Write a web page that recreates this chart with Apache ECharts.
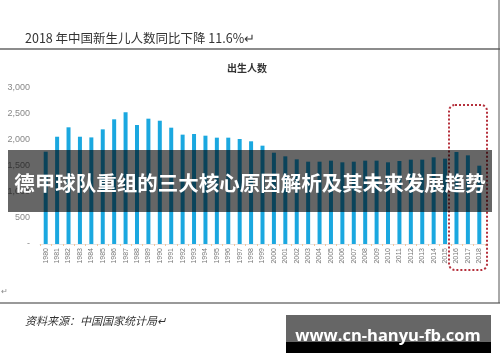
<!DOCTYPE html>
<html>
<head>
<meta charset="utf-8">
<script src="https://cdn.jsdelivr.net/npm/echarts@6/dist/echarts.min.js"></script>
<style>html,body{margin:0;padding:0;background:#fff;}#c{width:500px;height:362px;}</style>
</head>
<body>
<div id="c"></div>
<script>
const years = ['1980','1981','1982','1983','1984','1985','1986','1987','1988','1989','1990','1991','1992','1993','1994','1995','1996','1997','1998','1999','2000','2001','2002','2003','2004','2005','2006','2007','2008','2009','2010','2011','2012','2013','2014','2015','2016','2017','2018'];
const births = [1775,2063,2244,2063,2050,2205,2398,2532,2288,2410,2371,2237,2103,2115,2083,2045,2045,2019,1975,1891,1756,1686,1628,1583,1583,1603,1571,1583,1603,1603,1571,1596,1622,1622,1667,1641,1769,1705,1506];
const yTickLabels = ['-','500','1,000','1,500','2,000','2,500','3,000'];
const titleText = '2018 年中国新生儿人数同比下降 11.6%↵';
const seriesName = '出生人数';
const sourceText = '资料来源：中国国家统计局↵';
const bannerText = '德甲球队重组的三大核心原因解析及其未来发展趋势';
const watermarkText = 'www.cn-hanyu-fb.com';

const chart = echarts.init(document.getElementById('c'));
chart.setOption({
  animation: false,
  backgroundColor: '#fff',
  grid: {left: 40, top: 88, width: 445, height: 156},
  xAxis: {
    type: 'category',
    data: years,
    axisLine: {lineStyle: {color: '#e6e6e6'}},
    axisTick: {show: true, length: 2, lineStyle: {color: '#f2c49a'}},
    axisLabel: {rotate: 90, fontSize: 7, color: '#777', margin: 4, fontFamily: 'Liberation Sans'}
  },
  yAxis: {
    type: 'value',
    min: 0, max: 3000, interval: 500,
    splitLine: {show: false},
    axisLine: {show: false},
    axisTick: {show: false},
    axisLabel: {
      fontSize: 9, color: '#888', margin: 10, fontFamily: 'Liberation Sans',
      formatter: function (v) { return yTickLabels[Math.round(v / 500)]; }
    }
  },
  series: [{
    type: 'bar',
    name: seriesName,
    data: births,
    barWidth: 4,
    itemStyle: {color: '#1ba8e0'}
  }],
  graphic: [
    {type: 'text', left: 25, top: 32, z: 50, style: {text: titleText, fontSize: 12.5, fill: '#333', fontFamily: 'Noto Sans CJK SC'}},
    {type: 'line', z: 50, shape: {x1: 0, y1: 49, x2: 500, y2: 49}, style: {stroke: '#666', lineWidth: 1.5}},
    {type: 'line', z: 50, shape: {x1: 0, y1: 303, x2: 500, y2: 303}, style: {stroke: '#777', lineWidth: 1.5}},
    {type: 'line', z: 50, shape: {x1: 499, y1: 0, x2: 499, y2: 303}, style: {stroke: '#555', lineWidth: 1}},
    {type: 'text', left: 227, top: 63, z: 50, style: {text: seriesName, fontSize: 10, fontWeight: 'bold', fill: '#333', fontFamily: 'Noto Sans CJK SC'}},
    {type: 'text', left: 1, top: 288, z: 50, style: {text: '↵', fontSize: 8, fill: '#888'}},
    {type: 'text', left: 25, top: 315, z: 50, style: {text: sourceText, fontSize: 11, fontStyle: 'italic', fill: '#333', fontFamily: 'Noto Sans CJK SC'}},
    {type: 'rect', z: 60, shape: {x: 449, y: 105, width: 38, height: 165, r: 6}, style: {fill: 'none', stroke: '#b5303c', lineWidth: 2, lineDash: [2, 2]}},
    {type: 'rect', z: 100, shape: {x: 8, y: 150, width: 484, height: 62}, style: {fill: 'rgba(0,0,0,0.6)'}},
    {type: 'text', z: 101, x: 250, y: 183, style: {text: bannerText, fontSize: 20.5, fontWeight: 'bold', fill: '#fff', align: 'center', verticalAlign: 'middle', fontFamily: 'Noto Sans CJK SC'}},
    {type: 'rect', z: 100, shape: {x: 286, y: 315, width: 205, height: 27}, style: {fill: '#666'}},
    {type: 'rect', z: 100, shape: {x: 286, y: 342, width: 205, height: 11}, style: {fill: '#000'}},
    {type: 'text', z: 101, x: 388, y: 336, style: {text: watermarkText, fontSize: 16.5, fontWeight: 'bold', fill: '#fff', align: 'center', verticalAlign: 'middle', fontFamily: 'Open Sans'}}
  ]
});
</script>
</body>
</html>
